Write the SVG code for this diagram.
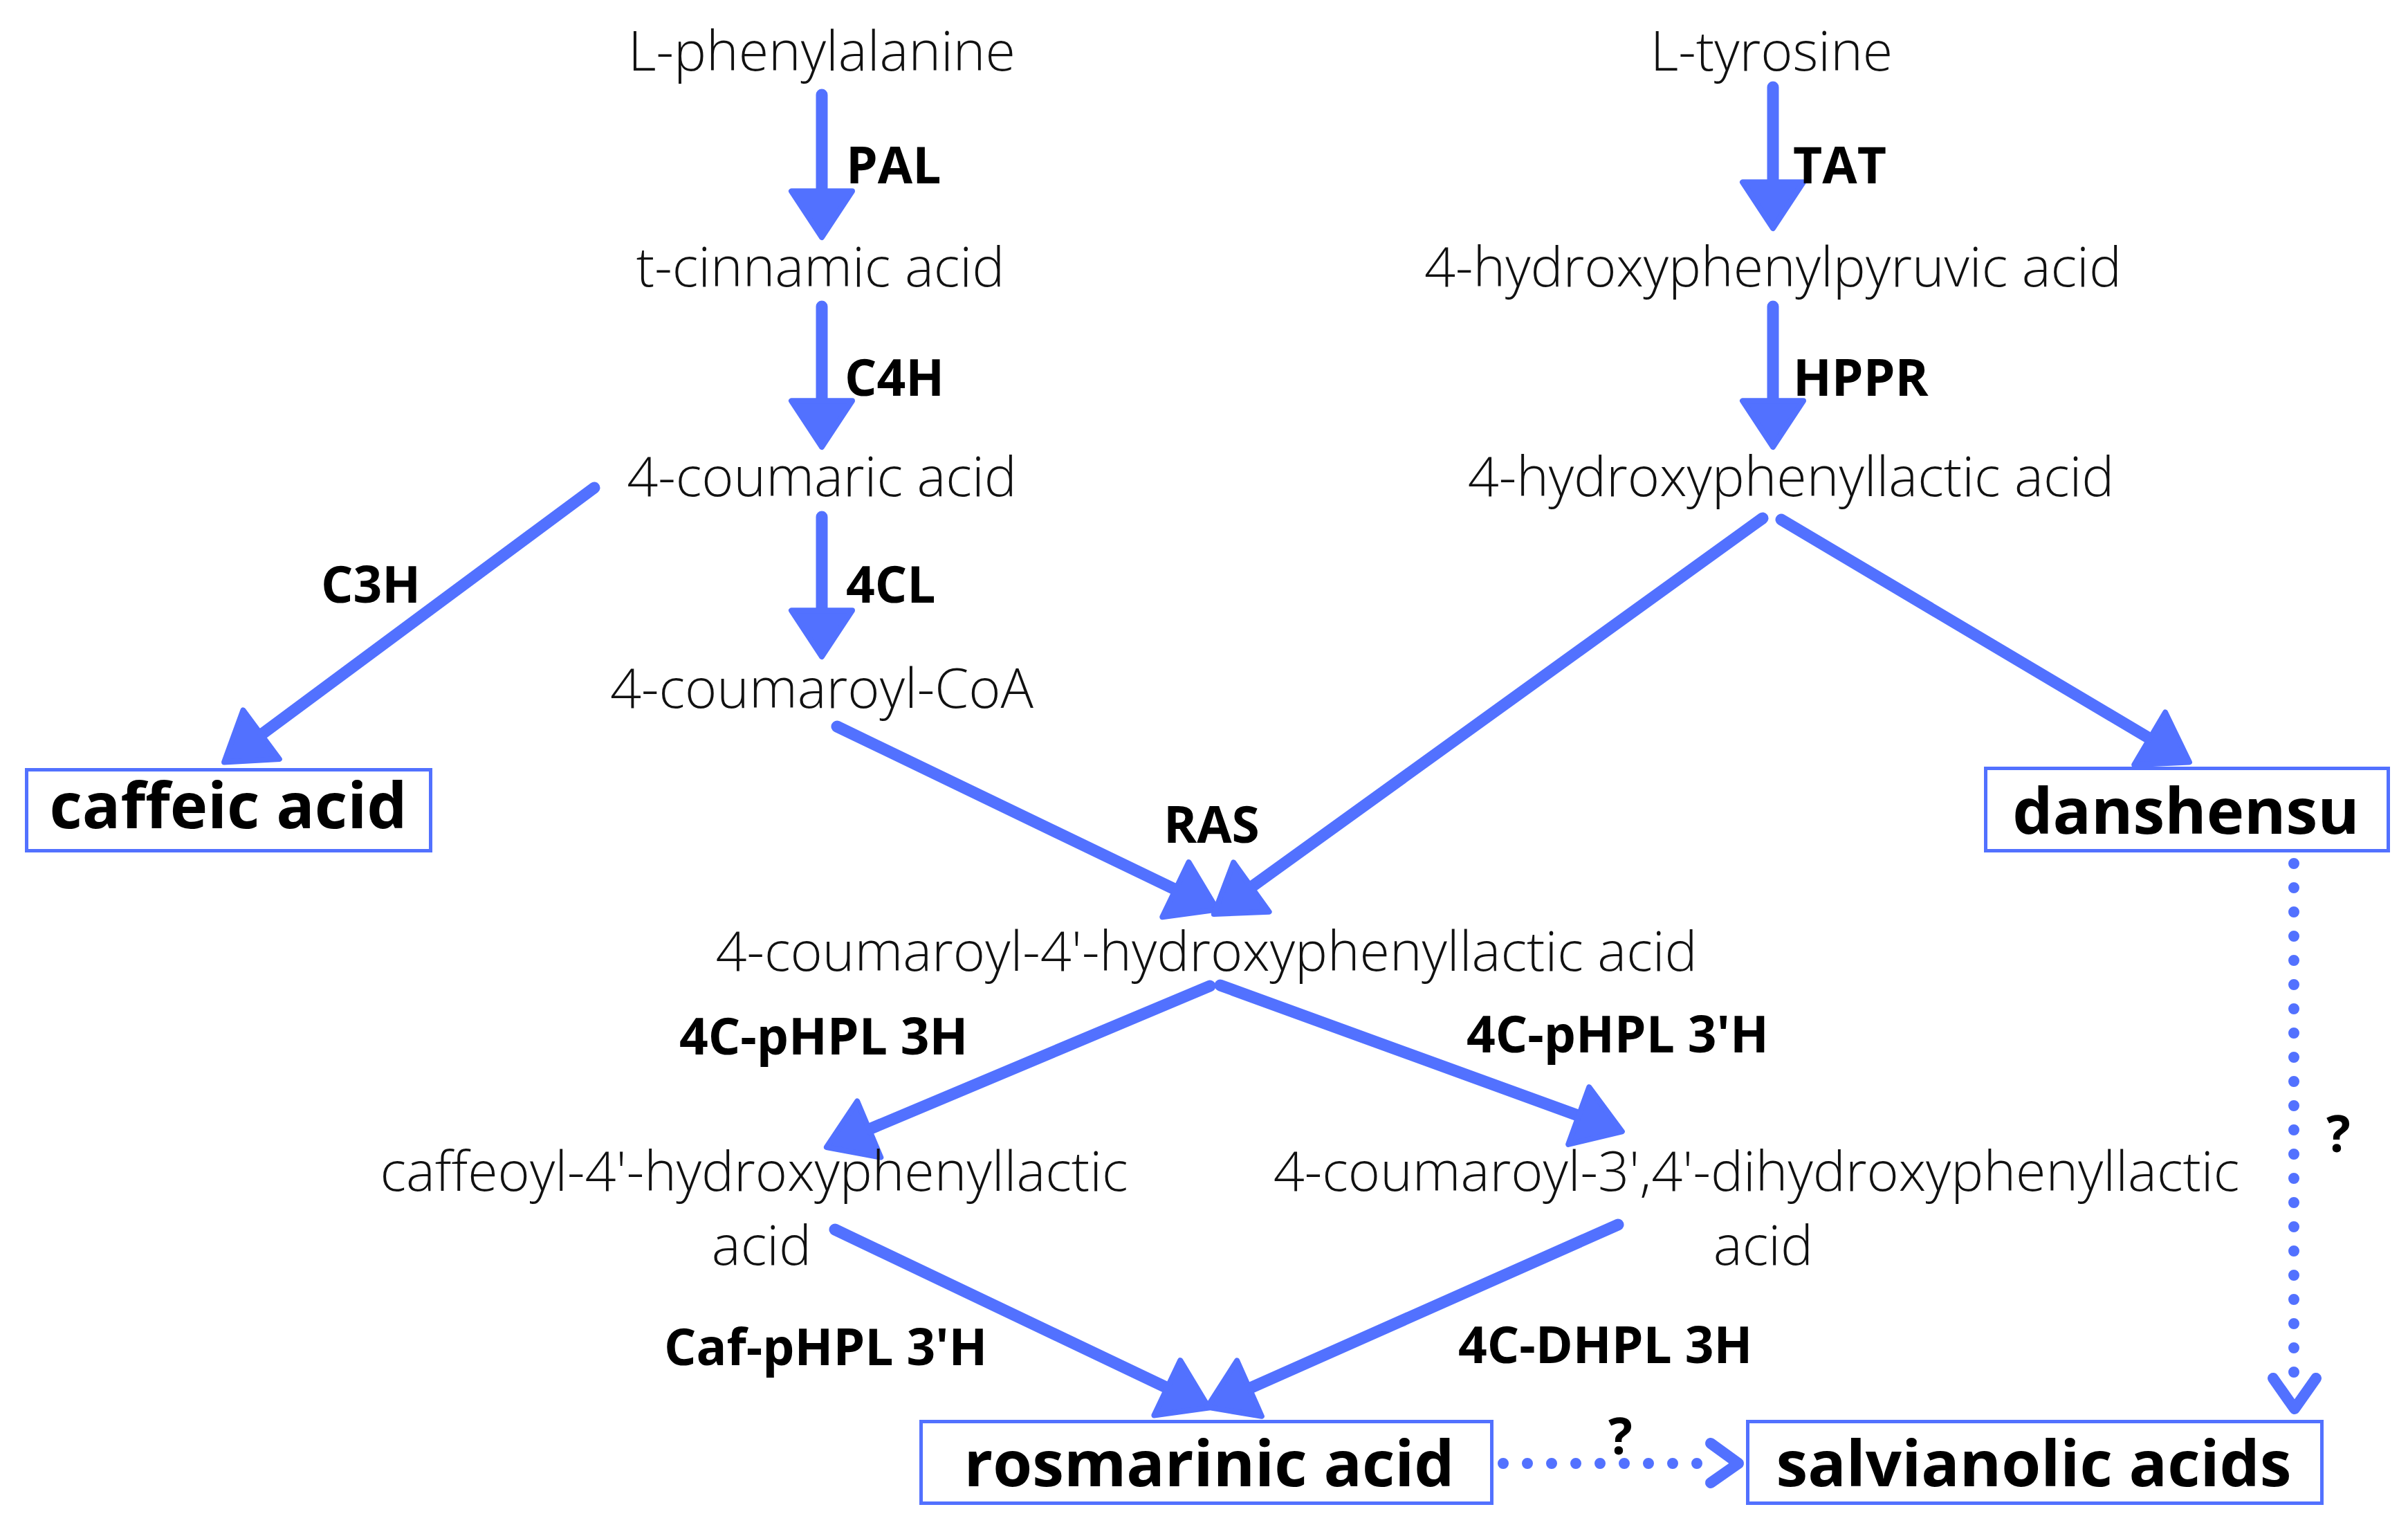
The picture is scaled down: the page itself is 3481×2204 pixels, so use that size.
<svg xmlns="http://www.w3.org/2000/svg" width="3481" height="2204" viewBox="0 0 3481 2204">
<style>
.cmp{font-family:"Open Sans","Noto Sans","Liberation Sans",sans-serif;font-weight:300;font-size:79px;fill:#111;text-anchor:middle}
.enz{font-family:"Open Sans","Noto Sans","Liberation Sans",sans-serif;font-weight:700;font-size:73px;fill:#000}
.box{fill:#fff;stroke:#5271ff;stroke-width:5}
.btx{font-family:"Open Sans","Noto Sans","Liberation Sans",sans-serif;font-weight:700;font-size:92px;fill:#000;text-anchor:middle}
.arr{stroke:#5271ff;stroke-width:17;stroke-linecap:round;fill:none;marker-end:url(#head)}
.dot{stroke:#5271ff;stroke-width:16;stroke-linecap:round;stroke-dasharray:0 35;fill:none}
.chev{stroke:#5271ff;stroke-width:16;stroke-linecap:round;stroke-linejoin:round;fill:none}
</style>
<defs>
<marker id="head" markerUnits="userSpaceOnUse" orient="auto" refX="23" refY="0" markerWidth="120" markerHeight="120" viewBox="-10 -45 80 90" overflow="visible">
<path d="M0,-33 L50,0 L0,33 Z" fill="#5271ff" stroke="#5271ff" stroke-width="6" stroke-linejoin="round"/>
</marker>
</defs>
<rect width="3481" height="2204" fill="#fff"/>

<g id="connectors">
<line class="arr" x1="1188" y1="137" x2="1188" y2="307"/>
<line class="arr" x1="1188" y1="443" x2="1188" y2="610"/>
<line class="arr" x1="1188" y1="747" x2="1188" y2="913"/>
<line class="arr" x1="2563" y1="126" x2="2563" y2="294"/>
<line class="arr" x1="2563" y1="443" x2="2563" y2="610"/>
<line class="arr" x1="859" y1="705" x2="353" y2="1080"/>
<line class="arr" x1="1210" y1="1050" x2="1727" y2="1299"/>
<line class="arr" x1="2548" y1="749" x2="1784" y2="1300"/>
<line class="arr" x1="2575" y1="751" x2="3134" y2="1083"/>
<line class="arr" x1="1749" y1="1425" x2="1228" y2="1644"/>
<line class="arr" x1="1764" y1="1424" x2="2311" y2="1623"/>
<line class="arr" x1="1207" y1="1777" x2="1715" y2="2019"/>
<line class="arr" x1="2339" y1="1770" x2="1778" y2="2019"/>
<line class="dot" x1="3316" y1="1248" x2="3316" y2="1985"/>
<polyline class="chev" points="3286,1992 3317,2036 3348,1992"/>
<line class="dot" x1="2173" y1="2115" x2="2455" y2="2115"/>
<polyline class="chev" points="2473,2086 2513,2115 2473,2143"/>
</g>

<g id="n-phe"><text class="cmp" x="1188" y="102">L-phenylalanine</text></g>
<g id="n-cin"><text class="cmp" x="1186" y="414">t-cinnamic acid</text></g>
<g id="n-cou"><text class="cmp" x="1188" y="717">4-coumaric acid</text></g>
<g id="n-coa"><text class="cmp" x="1188" y="1023">4-coumaroyl-CoA</text></g>
<g id="n-tyr"><text class="cmp" x="2561" y="102">L-tyrosine</text></g>
<g id="n-hpp"><text class="cmp" x="2563" y="414">4-hydroxyphenylpyruvic acid</text></g>
<g id="n-hpl"><text class="cmp" x="2589" y="717">4-hydroxyphenyllactic acid</text></g>
<g id="n-4c4h"><text class="cmp" x="1744" y="1403">4-coumaroyl-4'-hydroxyphenyllactic acid</text></g>
<g id="n-caf4h"><text class="cmp" x="1090" y="1721">caffeoyl-4'-hydroxyphenyllactic</text><text class="cmp" x="1101" y="1828">acid</text></g>
<g id="n-4c34"><text class="cmp" x="2539" y="1721">4-coumaroyl-3',4'-dihydroxyphenyllactic</text><text class="cmp" x="2549" y="1828">acid</text></g>

<g id="n-caffeic"><rect class="box" x="38.5" y="1112.5" width="584" height="117"/><text class="btx" x="330" y="1197">caffeic acid</text></g>
<g id="n-danshensu"><rect class="box" x="2870.5" y="1110.5" width="582" height="119"/><text class="btx" x="3160" y="1205">danshensu</text></g>
<g id="n-ra"><rect class="box" x="1331.5" y="2054.5" width="825" height="118"/><text class="btx" x="1748" y="2148">rosmarinic acid</text></g>
<g id="n-sal"><rect class="box" x="2526.5" y="2054.5" width="830" height="118"/><text class="btx" x="2940" y="2148">salvianolic acids</text></g>

<g id="labels">
<text class="enz" x="1223" y="265">PAL</text>
<text class="enz" x="1221" y="572">C4H</text>
<text class="enz" x="1223" y="871">4CL</text>
<text class="enz" x="464" y="871">C3H</text>
<text class="enz" x="2592" y="265">TAT</text>
<text class="enz" x="2592" y="572">HPPR</text>
<text class="enz" x="1682" y="1218">RAS</text>
<text class="enz" x="982" y="1524">4C-pHPL 3H</text>
<text class="enz" x="2120" y="1521">4C-pHPL 3'H</text>
<text class="enz" x="960" y="1973">Caf-pHPL 3'H</text>
<text class="enz" x="2108" y="1970">4C-DHPL 3H</text>
<text class="enz" x="2325" y="2102">?</text>
<text class="enz" x="3363" y="1665">?</text>
</g>
</svg>
